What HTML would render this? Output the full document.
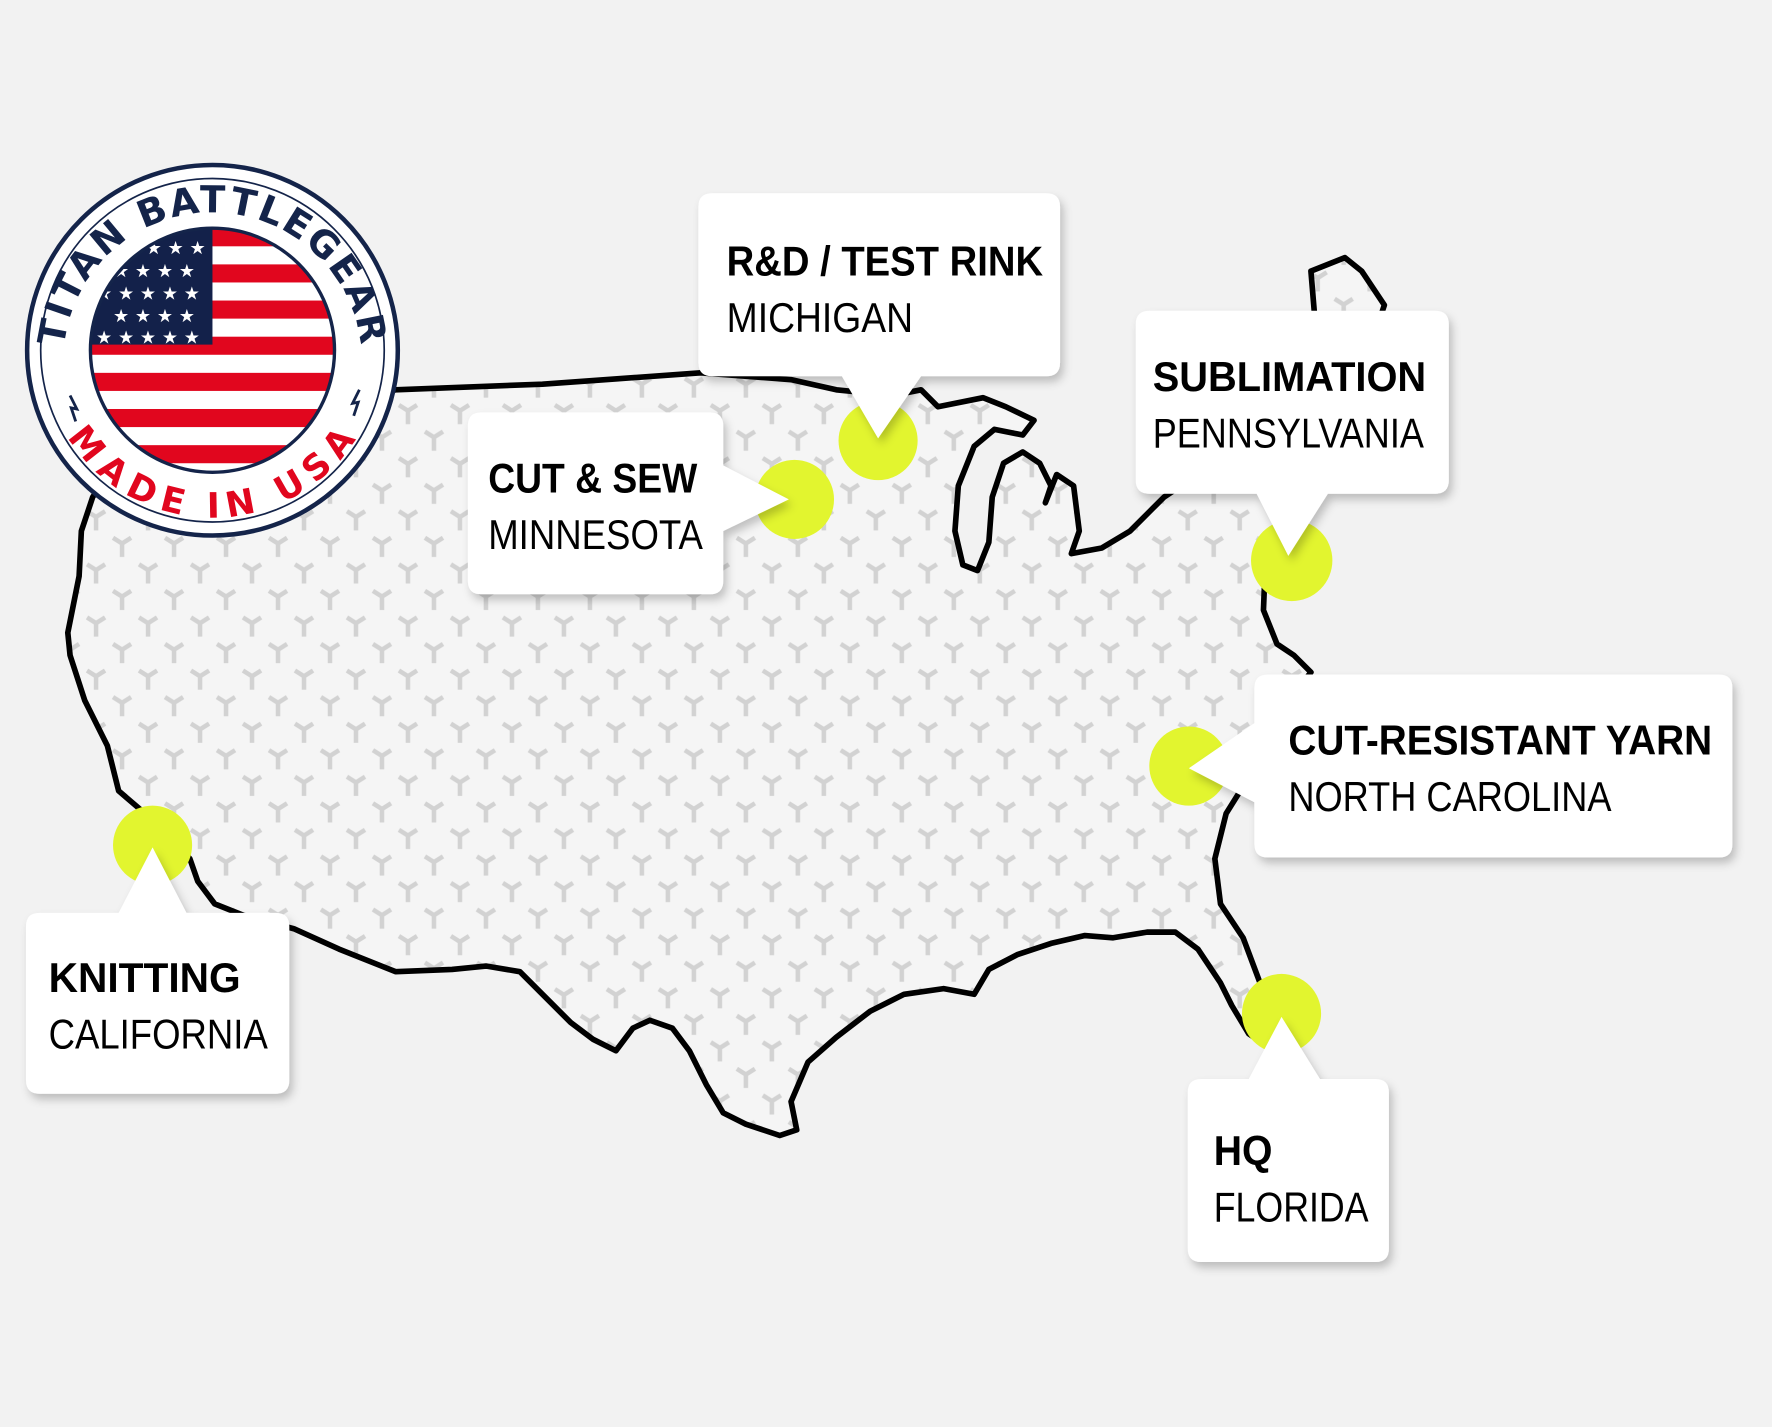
<!DOCTYPE html>
<html><head><meta charset="utf-8">
<style>
html,body{margin:0;padding:0;background:#f2f2f2;}
svg{display:block;}
.t{font-family:"Liberation Sans Narrow","Liberation Sans",sans-serif;font-weight:bold;font-size:37px;fill:#000;}
.s{font-family:"Liberation Sans Narrow","Liberation Sans",sans-serif;font-size:37px;fill:#000;}
</style></head><body>
<svg width="1772" height="1427" viewBox="0 0 1568 1263" preserveAspectRatio="none" xmlns="http://www.w3.org/2000/svg">
<defs>
<pattern id="yp" x="0" y="0" width="46" height="47" patternUnits="userSpaceOnUse">
<g stroke="#d2d2d2" stroke-width="4" fill="none" stroke-linejoin="round">
<path d="M8 6 L16 11 L24 6 M16 11 L16 23"/>
<path d="M31 29.5 L39 34.5 L47 29.5 M39 34.5 L39 46.5"/>
<path d="M-15 29.5 L-7 34.5 L1 29.5"/>
</g>
</pattern>
<path id="us" d="M350 345 L480 340 L620 330 L700 336 L740 345 L790 350 L815 345 L830 360 L870 352 L890 360 L915 372 L905 385 L880 380 L862 395 L848 430 L845 470 L852 500 L865 505 L875 480 L878 440 L888 410 L905 400 L920 410 L930 430 L925 445 L935 420 L950 430 L955 470 L948 490 L975 485 L1000 470 L1020 450 L1030 440 L1060 420 L1100 390 L1150 330 L1165 300 L1160 240 L1190 228 L1205 240 L1225 270 L1215 300 L1180 340 L1150 400 L1140 440 L1120 490 L1118 540 L1130 570 L1145 580 L1160 595 L1140 620 L1110 680 L1085 720 L1075 760 L1080 800 L1100 830 L1115 870 L1125 910 L1120 925 L1105 915 L1090 890 L1080 870 L1060 840 L1040 825 L1015 825 L985 830 L960 828 L930 835 L900 845 L875 858 L862 880 L835 875 L800 880 L770 895 L740 918 L715 940 L700 975 L705 1000 L690 1005 L660 995 L640 985 L625 960 L610 930 L595 910 L575 903 L560 910 L545 930 L525 920 L505 905 L480 880 L460 860 L430 855 L400 858 L350 860 L300 840 L260 822 L215 810 L190 800 L175 780 L168 760 L140 730 L105 700 L95 660 L75 620 L62 580 L60 560 L70 510 L72 470 L82 440 L95 420 L150 400 L300 360 Z"/>
<filter id="sh" x="-20%" y="-20%" width="140%" height="150%"><feDropShadow dx="3" dy="5" stdDeviation="4" flood-color="#000" flood-opacity="0.22"/></filter>
<clipPath id="fc"><circle cx="188" cy="310" r="108"/></clipPath>
<path id="arcTop" d="M 56 320 A 132 132 0 0 1 320 320"/>
<path id="arcBot" d="M 62 330 A 128 128 0 0 0 314 330"/>
</defs>
<rect width="1568" height="1263" fill="#f2f2f2"/>
<use href="#us" fill="#f5f5f5"/>
<use href="#us" fill="url(#yp)"/>
<use href="#us" fill="none" stroke="#000" stroke-width="5" stroke-linejoin="round"/>
<circle cx="188" cy="310" r="164" fill="#fff" stroke="#14244a" stroke-width="4"/>
<circle cx="188" cy="310" r="152" fill="none" stroke="#14244a" stroke-width="1.5"/>
<g clip-path="url(#fc)">
<rect x="70" y="190" width="240" height="240" fill="#fff"/>
<g fill="#e1061e">
<rect x="70" y="202" width="240" height="16"/><rect x="70" y="234" width="240" height="16"/><rect x="70" y="266" width="240" height="16"/><rect x="70" y="298" width="240" height="16"/><rect x="70" y="330" width="240" height="16"/><rect x="70" y="362" width="240" height="16"/><rect x="70" y="394" width="240" height="16"/>
</g>
<rect x="70" y="190" width="118" height="115" fill="#13214a"/>
<g fill="#fff" font-family="DejaVu Sans" font-size="16">
<text x="90" y="225">★ ★ ★ ★ ★</text><text x="100" y="245">★ ★ ★ ★</text><text x="85" y="265">★ ★ ★ ★ ★</text><text x="100" y="285">★ ★ ★ ★</text><text x="85" y="304">★ ★ ★ ★ ★</text>
</g>
</g>
<circle cx="188" cy="310" r="108" fill="none" stroke="#14244a" stroke-width="3"/>
<text font-family="DejaVu Sans" font-weight="bold" font-size="33" fill="#14244a" letter-spacing="2"><textPath href="#arcTop" startOffset="50%" text-anchor="middle">TITAN BATTLEGEAR</textPath></text>
<text font-family="DejaVu Sans" font-weight="bold" font-size="31" fill="#e1061e" letter-spacing="3"><textPath href="#arcBot" startOffset="50%" text-anchor="middle" dominant-baseline="hanging">MADE IN USA</textPath></text>
<path d="M62 350 l6 12 l-5 -1 l4 12" stroke="#14244a" stroke-width="2.5" fill="none"/>
<path d="M318 345 l-6 12 l5 -1 l-4 12" stroke="#14244a" stroke-width="2.5" fill="none"/>
<g fill="#e2f52f">
<circle cx="777" cy="390" r="35"/><circle cx="703" cy="442" r="35"/><circle cx="1143" cy="496" r="36"/><circle cx="1052" cy="678" r="35"/><circle cx="135" cy="748" r="35"/><circle cx="1134" cy="897" r="35"/>
</g>
<g fill="#fff" filter="url(#sh)">
<path d="M630 171 H926 Q938 171 938 183 V321 Q938 333 926 333 H815 L777 388 L745 333 H630 Q618 333 618 321 V183 Q618 171 630 171 Z"/>
<path d="M426 365 H628 Q640 365 640 377 V412 L698 442 L640 470 V514 Q640 526 628 526 H426 Q414 526 414 514 V377 Q414 365 426 365 Z"/>
<path d="M1017 275 H1270 Q1282 275 1282 287 V425 Q1282 437 1270 437 H1175 L1140 492 L1112 437 H1017 Q1005 437 1005 425 V287 Q1005 275 1017 275 Z"/>
<path d="M1122 597 H1521 Q1533 597 1533 609 V747 Q1533 759 1521 759 H1122 Q1110 759 1110 747 V710 L1052 680 L1110 640 V609 Q1110 597 1122 597 Z"/>
<path d="M35 808 H105 L135 750 L165 808 H244 Q256 808 256 820 V956 Q256 968 244 968 H35 Q23 968 23 956 V820 Q23 808 35 808 Z"/>
<path d="M1063 955 H1105 L1134 900 L1168 955 H1217 Q1229 955 1229 967 V1105 Q1229 1117 1217 1117 H1063 Q1051 1117 1051 1105 V967 Q1051 955 1063 955 Z"/>
</g>
<text class="t" x="643" y="244" textLength="280" lengthAdjust="spacingAndGlyphs">R&amp;D / TEST RINK</text>
<text class="s" x="643" y="294" textLength="165" lengthAdjust="spacingAndGlyphs">MICHIGAN</text>
<text class="t" x="432" y="436" textLength="185" lengthAdjust="spacingAndGlyphs">CUT &amp; SEW</text>
<text class="s" x="432" y="486" textLength="190" lengthAdjust="spacingAndGlyphs">MINNESOTA</text>
<text class="t" x="1020" y="346" textLength="242" lengthAdjust="spacingAndGlyphs">SUBLIMATION</text>
<text class="s" x="1020" y="396" textLength="240" lengthAdjust="spacingAndGlyphs">PENNSYLVANIA</text>
<text class="t" x="1140" y="668" textLength="375" lengthAdjust="spacingAndGlyphs">CUT-RESISTANT YARN</text>
<text class="s" x="1140" y="718" textLength="286" lengthAdjust="spacingAndGlyphs">NORTH CAROLINA</text>
<text class="t" x="43" y="878" textLength="170" lengthAdjust="spacingAndGlyphs">KNITTING</text>
<text class="s" x="43" y="928" textLength="194" lengthAdjust="spacingAndGlyphs">CALIFORNIA</text>
<text class="t" x="1074" y="1031" textLength="52" lengthAdjust="spacingAndGlyphs">HQ</text>
<text class="s" x="1074" y="1081" textLength="137" lengthAdjust="spacingAndGlyphs">FLORIDA</text>
</svg>
</body></html>
